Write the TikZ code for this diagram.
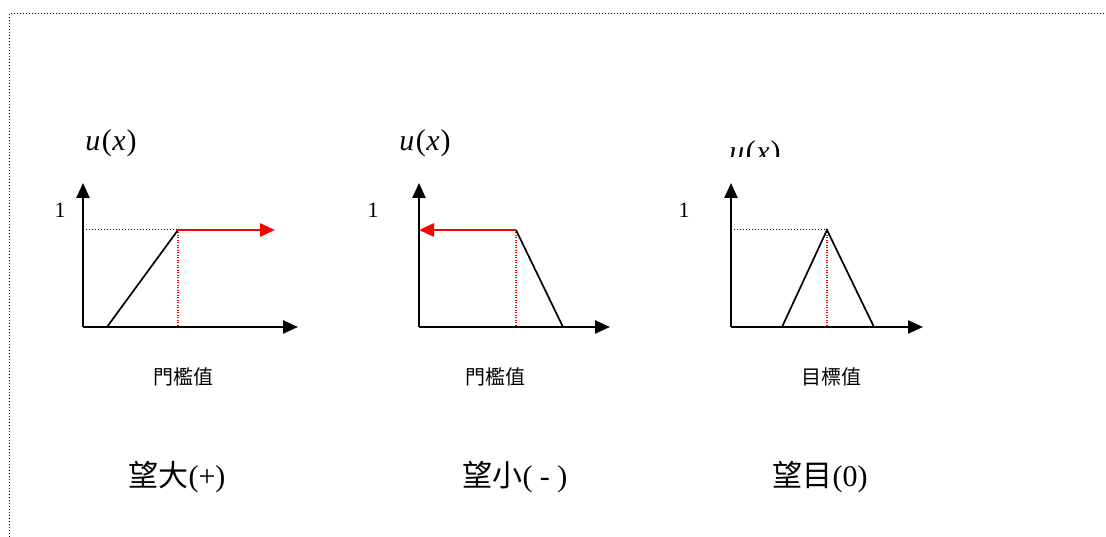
\documentclass[tikz,border=0pt]{standalone}
\usepackage{fontspec}
\setmainfont{Liberation Serif}
\newfontfamily\cjk{Noto Sans CJK TC}
\usetikzlibrary{arrows.meta}
\newcommand{\uofx}{\textit{u}\kern1.5pt(\kern0.5pt\textit{x}\kern1pt)}
\begin{document}
\begin{tikzpicture}[x=1pt,y=-1pt,
  axis/.style={line width=2.4pt,-{Triangle[length=15pt,width=13pt]}},
  curve/.style={line width=1.7pt,line join=miter},
  redarr/.style={red,line width=2.8pt,-{Triangle[length=15pt,width=13pt]}},
  guide/.style={dash pattern=on 1pt off 2pt,line width=1pt},
  redguide/.style={red,dash pattern=on 1pt off 1.5pt,line width=1.3pt},
  ulabel/.style={font=\fontsize{30}{34}\selectfont},
  onelabel/.style={font=\fontsize{22}{26}\selectfont},
  smalllabel/.style={font=\cjk\fontsize{20}{24}\selectfont},
  biglabel/.style={font=\fontsize{30}{34}\selectfont},
  frame/.style={dash pattern=on 1pt off 2pt,line width=1pt}]
\useasboundingbox (0,0) rectangle (1106,537);
\draw[frame] (9,537) -- (9,13.5) -- (1106,13.5);

% ---- panel 1 : 望大 ----
\coordinate (o1) at (83,327);
\coordinate (yt1) at (83,183);
\coordinate (xt1) at (298,327);
\coordinate (a1) at (83,230);
\coordinate (p1) at (178,230);
\coordinate (f1) at (178,327);
\coordinate (r1) at (107,327);
\coordinate (e1) at (275,230);
\draw[guide] (a1) -- (p1);
\draw[redguide] (p1) -- (f1);
\draw[curve] (r1) -- (p1);
\draw[redarr] (p1) -- (e1);
\draw[axis] (o1) -- (yt1);
\draw[axis] (o1) -- (xt1);
\node[ulabel] (u1) at (111,143) {\uofx};
\node[onelabel] (one1) at (60,210) {1};
\node[smalllabel] (t1) at (183,377) {門檻值};
\node[biglabel] (b1) at (177,477) {{\cjk 望大}(+)};

% ---- panel 2 : 望小 ----
\coordinate (o2) at (419,327);
\coordinate (yt2) at (419,183);
\coordinate (xt2) at (610,327);
\coordinate (a2) at (419,230);
\coordinate (p2) at (516,230);
\coordinate (f2) at (516,327);
\coordinate (r2) at (563,327);
\draw[redguide] (p2) -- (f2);
\draw[curve] (p2) -- (r2);
\draw[redarr] (p2) -- (a2);
\draw[axis] (o2) -- (yt2);
\draw[axis] (o2) -- (xt2);
\node[ulabel] (u2) at (425,143) {\uofx};
\node[onelabel] (one2) at (373,210) {1};
\node[smalllabel] (t2) at (495,377) {門檻值};
\node[biglabel] (b2) at (515,477) {{\cjk 望小}( - )};

% ---- panel 3 : 望目 ----
\coordinate (o3) at (731,327);
\coordinate (yt3) at (731,183);
\coordinate (xt3) at (923,327);
\coordinate (a3) at (731,230);
\coordinate (p3) at (827,230);
\coordinate (f3) at (827,327);
\coordinate (l3) at (782,327);
\coordinate (r3) at (874,327);
\draw[guide] (a3) -- (p3);
\draw[redguide] (p3) -- (f3);
\draw[curve] (l3) -- (p3) -- (r3);
\draw[axis] (o3) -- (yt3);
\draw[axis] (o3) -- (xt3);
\begin{scope}
  \clip (700,120) rectangle (830,157);
  \node[ulabel] (u3) at (755,154) {\uofx};
\end{scope}
\node[onelabel] (one3) at (684,210) {1};
\node[smalllabel] (t3) at (831,377) {目標值};
\node[biglabel] (b3) at (820,477) {{\cjk 望目}(0)};
\end{tikzpicture}
\end{document}
